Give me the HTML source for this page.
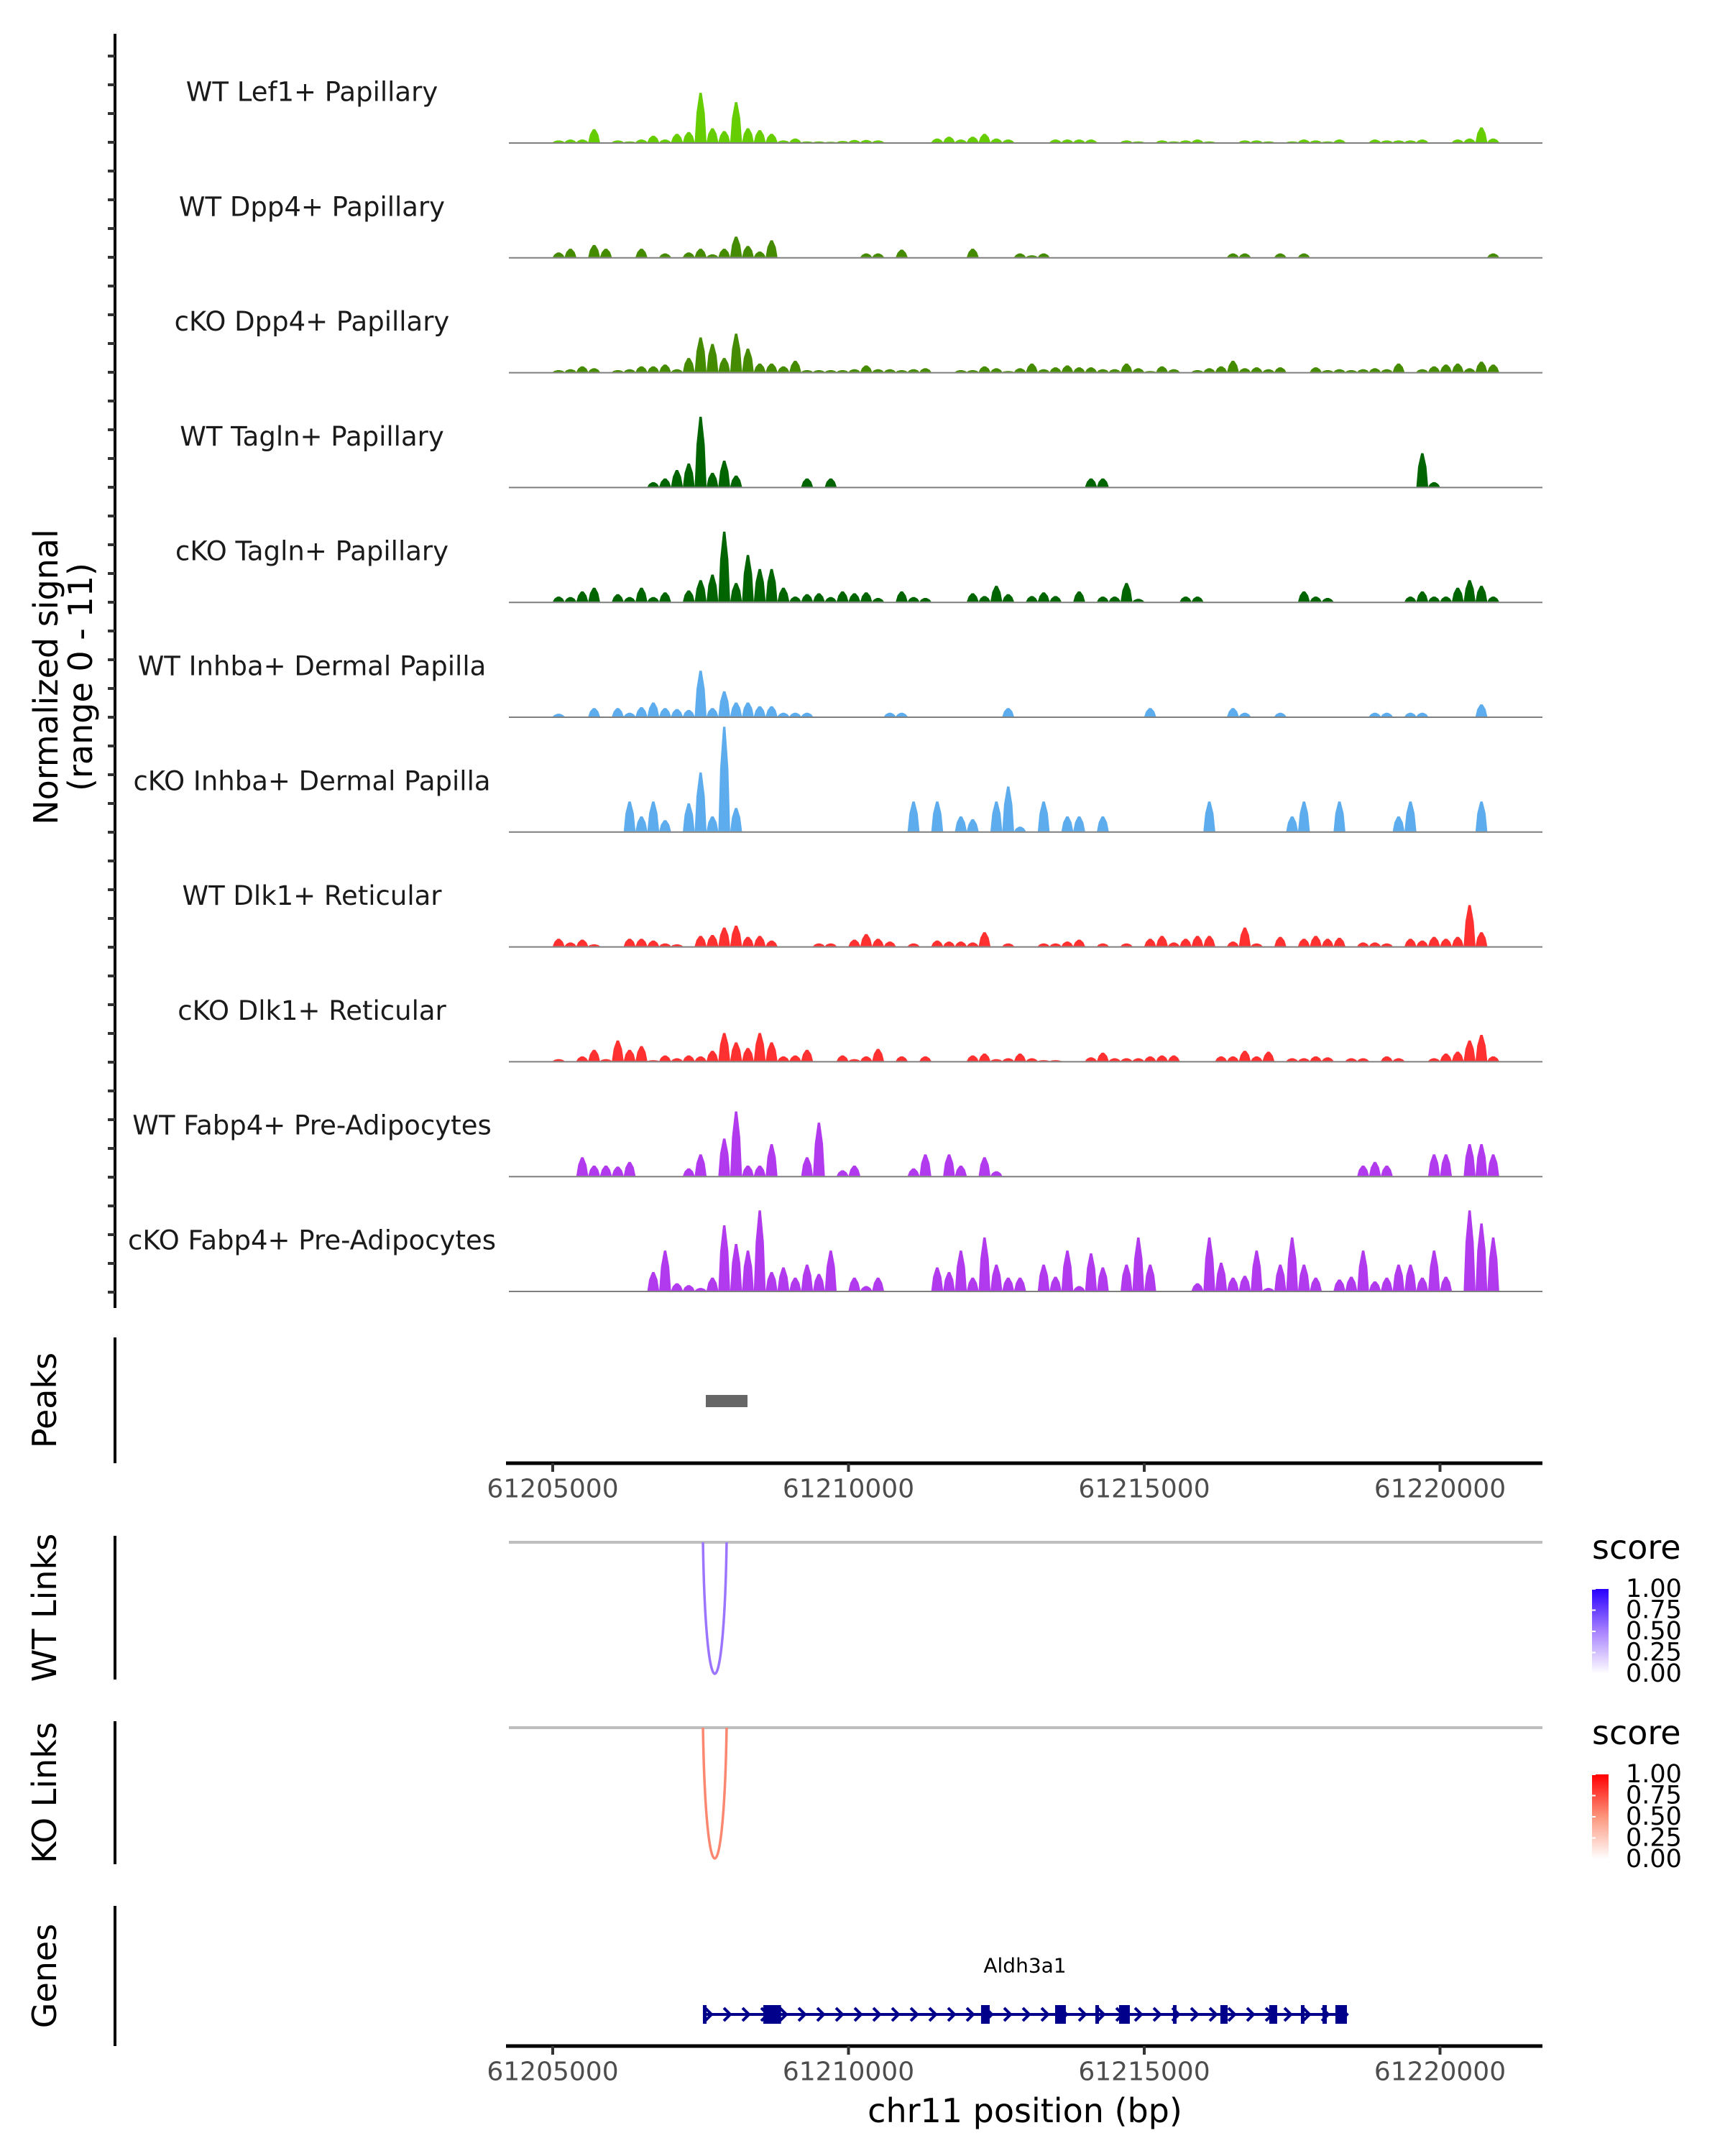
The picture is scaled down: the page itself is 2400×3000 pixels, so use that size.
<!DOCTYPE html>
<html><head><meta charset="utf-8"><style>
html,body{margin:0;padding:0;background:#fff;}
svg{display:block;font-family:"DejaVu Sans","Liberation Sans",sans-serif;}
</style></head><body>
<svg id="chart" xmlns="http://www.w3.org/2000/svg" width="2400" height="3000" viewBox="0 0 2400 3000">
<rect x="0" y="0" width="2400" height="3000" fill="#fff"/>
<g id="tracks"></g>
<g id="yaxis"></g>
<text transform="translate(64,942) rotate(-90)" text-anchor="middle" dominant-baseline="central" font-size="46">Normalized signal</text>
<text transform="translate(112,942) rotate(-90)" text-anchor="middle" dominant-baseline="central" font-size="46">(range 0 - 11)</text>
<g id="peaks"></g>
<g id="links"></g>
<g id="genes"></g>
</svg>
<script>
const NS="http://www.w3.org/2000/svg";
// ---- data ----
const trackNames=["WT Lef1+ Papillary","WT Dpp4+ Papillary","cKO Dpp4+ Papillary","WT Tagln+ Papillary","cKO Tagln+ Papillary","WT Inhba+ Dermal Papilla","cKO Inhba+ Dermal Papilla","WT Dlk1+ Reticular","cKO Dlk1+ Reticular","WT Fabp4+ Pre-Adipocytes","cKO Fabp4+ Pre-Adipocytes"];
const trackColors=["#66CD00","#458B00","#458B00","#006400","#006400","#5CACEE","#5CACEE","#FF3030","#FF3030","#B23AEE","#B23AEE"];
const binStart=61205000;
const binSize=200;
const sigLef1WT=[0.2,0.3,0.3,1.4,0,0.2,0.1,0.3,0.7,0.3,0.9,1.1,5.3,1.5,1.2,4.3,1.5,1.3,0.9,0.2,0.4,0.1,0.1,0.05,0.15,0.25,0.25,0.2,0,0,0,0,0.4,0.6,0.3,0.6,0.9,0.4,0.3,0,0,0,0.3,0.3,0.3,0.3,0,0,0.2,0.1,0,0.2,0.1,0.2,0.3,0.1,0,0,0.2,0.2,0.1,0,0.1,0.3,0.2,0.1,0.3,0,0,0.3,0.2,0.2,0.2,0.3,0,0,0.3,0.4,1.6,0.4];
const sigDpp4WT=[0.5,0.9,0,1.3,0.9,0,0,0.9,0,0.4,0,0.5,0.9,0.3,0.9,2.2,1.2,0.6,1.8,0,0,0,0,0,0,0,0.4,0.4,0,0.8,0,0,0,0,0,0.9,0,0,0,0.4,0.2,0.4,0,0,0,0,0,0,0,0,0,0,0,0,0,0,0,0.4,0.4,0,0,0.4,0,0.4,0,0,0,0,0,0,0,0,0,0,0,0,0,0,0,0.4];
const sigDpp4KO=[0.2,0.3,0.6,0.4,0,0.2,0.3,0.6,0.6,0.8,0.3,1.5,3.7,3,1.5,4.1,2.5,0.9,0.9,0.6,1.2,0.2,0.2,0.2,0.2,0.3,0.7,0.3,0.3,0.2,0.3,0.4,0,0,0.2,0.2,0.6,0.4,0.1,0.4,0.9,0.3,0.5,0.7,0.5,0.5,0.3,0.3,0.9,0.4,0.1,0.6,0.3,0,0.2,0.4,0.6,1.2,0.4,0.5,0.3,0.5,0,0,0.5,0.2,0.3,0.2,0.3,0.4,0.3,0.9,0,0.3,0.6,0.8,0.9,0.4,1.1,0.8];
const sigTaglnWT=[0,0,0,0,0,0,0,0,0.5,0.9,1.8,2.5,7.5,1.5,2.8,1.2,0,0,0,0,0,0.9,0,0.9,0,0,0,0,0,0,0,0,0,0,0,0,0,0,0,0,0,0,0,0,0,0.9,0.9,0,0,0,0,0,0,0,0,0,0,0,0,0,0,0,0,0,0,0,0,0,0,0,0,0,0,3.6,0.5,0,0,0,0,0];
const sigTaglnKO=[0.55,0.5,1.1,1.5,0,0.8,0.5,1.5,0.5,1,0,1.2,2.3,2.9,7.5,2,5,3.5,3.5,1.5,0.55,0.8,0.9,0.5,1.1,0.9,1,0.4,0,1.1,0.5,0.4,0,0,0,0.9,0.6,1.7,0.8,0,0.6,1,0.6,0,1.1,0,0.55,0.55,2,0.3,0,0,0,0.55,0.55,0,0,0,0,0,0,0,0,1.1,0.55,0.4,0,0,0,0,0,0,0.55,1.1,0.55,0.55,1.5,2.3,1.7,0.55];
const sigInhbaWT=[0.3,0,0,0.9,0,0.9,0.4,1,1.5,0.9,0.8,0.7,4.9,0.9,2.7,1.5,1.5,1.1,1.1,0.4,0.4,0.4,0,0,0,0,0,0,0.4,0.4,0,0,0,0,0,0,0,0,0.9,0,0,0,0,0,0,0,0,0,0,0,0.9,0,0,0,0,0,0,0.9,0.4,0,0,0.4,0,0,0,0,0,0,0,0.4,0.4,0,0.4,0.4,0,0,0,0,1.3,0];
const sigInhbaKO=[0,0,0,0,0,0,3.2,1.6,3.2,1.2,0,3,6.3,1.6,11.2,2.5,0,0,0,0,0,0,0,0,0,0,0,0,0,0,3.2,0,3.2,0,1.6,1.3,0,3.2,4.8,0.5,0,3.2,0,1.6,1.6,0,1.6,0,0,0,0,0,0,0,0,3.2,0,0,0,0,0,0,1.6,3.2,0,0,3.2,0,0,0,0,1.6,3.2,0,0,0,0,0,3.2,0];
const sigDlk1WT=[0.8,0.4,0.7,0.2,0,0,0.8,0.8,0.6,0.3,0.2,0,1.1,1.2,2,2.2,1,1.1,0.6,0,0,0,0.3,0.3,0,0.7,1.3,0.8,0.5,0,0.3,0,0.6,0.5,0.5,0.4,1.5,0,0.3,0,0,0.3,0.3,0.5,0.7,0,0.3,0,0.3,0,0.8,1.1,0.4,0.8,1.1,1.1,0,0.5,2,0.3,0,1,0,0.8,1.1,0.8,0.9,0,0.4,0.4,0.3,0,0.8,0.6,1,0.8,1,4.4,1.5,0];
const sigDlk1KO=[0.2,0,0.5,1.2,0.2,2.2,1.2,1.6,0.1,0.6,0.3,0.6,0.5,1.1,3,2,1.4,3,2,0.5,0.6,1.2,0,0,0.6,0.2,0.5,1.3,0,0.5,0,0.5,0,0,0,0.6,0.8,0.2,0.3,0.8,0.3,0.1,0.1,0,0,0.4,0.9,0.3,0.3,0.3,0.5,0.6,0.6,0,0,0,0.5,0.5,1.1,0.5,1,0,0.3,0.3,0.5,0.4,0,0.3,0.3,0,0.5,0.3,0,0,0.3,0.8,1,2.2,2.8,0.5];
const sigFabp4WT=[0,0,2,1.1,1.1,1,1.5,0,0,0,0,0.8,2.3,0,4,6.9,1.1,1.1,3.4,0,0,2,5.7,0,0.6,1.1,0,0,0,0,0.8,2.3,0,2.3,1.1,0,2,0.5,0,0,0,0,0,0,0,0,0,0,0,0,0,0,0,0,0,0,0,0,0,0,0,0,0,0,0,0,0,0,1.1,1.5,1.1,0,0,0,2.3,2.3,0,3.4,3.4,2.3];
const sigFabp4KO=[0,0,0,0,0,0,0,0,2,4.3,0.8,0.6,0.3,1.4,7,5,4.3,8.6,2,2.5,1.4,2.8,1.8,4.3,0,1.4,0.5,1.4,0,0,0,0,2.5,2,4.3,1.4,5.7,2.8,1.4,1.4,0,2.8,1.5,4.3,0.5,4,2.5,0,2.8,5.7,2.8,0,0,0,0.8,5.7,3,1.4,1.6,4.3,0.3,2.8,5.7,2.8,1.4,0,1.2,1.5,4.3,1,1.4,2.8,2.8,1.4,4.3,1.5,0,8.6,7.2,5.7];
const trackSignals=[sigLef1WT,sigDpp4WT,sigDpp4KO,sigTaglnWT,sigTaglnKO,sigInhbaWT,sigInhbaKO,sigDlk1WT,sigDlk1KO,sigFabp4WT,sigFabp4KO];
const xTicks=[61205000,61210000,61215000,61220000];
const xTickLabels=["61205000","61210000","61215000","61220000"];
const peakStarts=[61207588];
const peakEnds=[61208293];
const wtLinkStarts=[61207540];
const wtLinkEnds=[61207940];
const wtLinkScores=[0.55];
const koLinkStarts=[61207540];
const koLinkEnds=[61207940];
const koLinkScores=[0.55];
const legendTicks=[0,0.25,0.5,0.75,1];
const legendLabels=["0.00","0.25","0.50","0.75","1.00"];
const geneName="Aldh3a1";
const geneStart=61207540;
const geneEnd=61218426;
const exonStarts=[61207539,61208560,61212241,61213493,61214173,61214574,61215485,61216287,61217114,61217648,61218013,61218231];
const exonEnds=[61207600,61208860,61212387,61213675,61214234,61214756,61215546,61216409,61217247,61217709,61218086,61218426];
// ---- scales ----
const X0=708,X1=2146;
function xs(bp){return 769+(bp-61205000)*0.0823;}
const unitPx=13;
function baseY(i){return 198+159.8*i;}
function el(tag,attrs,parent){const e=document.createElementNS(NS,tag);for(const k in attrs)e.setAttribute(k,attrs[k]);parent.appendChild(e);return e;}
// ---- tracks ----
const gT=document.getElementById('tracks');
trackNames.forEach((name,i)=>{
  const by=baseY(i);
  const g=el('g',{},gT);
  
  
  const t=el('text',{x:434,y:by-70,'text-anchor':'middle','dominant-baseline':'central','font-size':37,fill:'#1a1a1a'},g);
  t.textContent=name;
  
  
  const sig=trackSignals[i];
  let d='';
  sig.forEach((v,k)=>{
    if(v<=0)return;
    const a=xs(binStart+k*binSize), b=xs(binStart+(k+1)*binSize), w=b-a, h=v*unitPx;
    d+=`M${a.toFixed(1)},${by}L${(a+w*0.15).toFixed(1)},${(by-h*0.6).toFixed(1)}L${(a+w*0.4).toFixed(1)},${(by-h).toFixed(1)}L${(a+w*0.6).toFixed(1)},${(by-h).toFixed(1)}L${(a+w*0.85).toFixed(1)},${(by-h*0.6).toFixed(1)}L${b.toFixed(1)},${by}Z`;
  });
  const p=el('path',{d:d,fill:trackColors[i]},g);
  
  
  const l=el('line',{x1:X0,x2:X1,y1:by+1,y2:by+1,stroke:'#7f7f7f','stroke-width':2},g);
  
  
});
// ---- y axis ----
const gY=document.getElementById('yaxis');
const ya=el('line',{x1:160,x2:160,y1:47,y2:1820,stroke:'#000','stroke-width':4},gY);


for(let y=78;y<=1818;y+=40){
  const tk=el('line',{x1:150,x2:160,y1:y,y2:y,stroke:'#333','stroke-width':4},gY);
  
  
}
// ---- helpers for panels ----
function panelAxis(parent,y1,y2,label,name){
  const a=el('line',{x1:160,x2:160,y1:y1,y2:y2,stroke:'#000','stroke-width':4},parent);
  
  
  const t=el('text',{transform:`translate(62,${(y1+y2)/2}) rotate(-90)`,'text-anchor':'middle','dominant-baseline':'central','font-size':46},parent);
  t.textContent=label;
  
  
}
function xAxis(parent,y,name){
  const a=el('line',{x1:X0-4,x2:X1,y1:y,y2:y,stroke:'#000','stroke-width':5},parent);
  
  
  xTicks.forEach((v,k)=>{
    const tk=el('line',{x1:xs(v),x2:xs(v),y1:y,y2:y+12,stroke:'#333','stroke-width':4},parent);
    
    
    const t=el('text',{x:xs(v),y:y+36,'text-anchor':'middle','dominant-baseline':'central','font-size':36,fill:'#4d4d4d'},parent);
    t.textContent=xTickLabels[k];
    
    
  });
}
// ---- peaks ----
const gP=document.getElementById('peaks');
panelAxis(gP,1861,2036,'Peaks','peaks');
peakStarts.forEach((s,k)=>{
  const r=el('rect',{x:xs(s),y:1941,width:xs(peakEnds[k])-xs(s),height:17,fill:'#666666'},gP);
  
  
});
xAxis(gP,2036,'peaks-x-axis');
// ---- links ----
const gL=document.getElementById('links');
function lerp(a,b,t){return a.map((v,i)=>Math.round(v+(b[i]-v)*t));}
function scaleColor(mid,hi,s){
  const c=s<0.5?lerp([255,255,255],mid,s/0.5):lerp(mid,hi,(s-0.5)/0.5);
  return `rgb(${c[0]},${c[1]},${c[2]})`;
}
function linkPanel(y0,yBottom,axisTop,axisBot,label,name,starts,ends,scores,mid,hi,legendY){
  const g=el('g',{},gL);
  
  
  panelAxis(g,axisTop,axisBot,label,name);
  const bl=el('line',{x1:X0,x2:X1,y1:y0,y2:y0,stroke:'#bebebe','stroke-width':4},g);
  
  
  starts.forEach((s,k)=>{
    const a=xs(s),b=xs(ends[k]);
    const cy=y0+(yBottom-y0)/0.75;
    const p=el('path',{d:`M${a},${y0}C${a+(b-a)*0.12},${cy} ${b-(b-a)*0.12},${cy} ${b},${y0}`,fill:'none',stroke:scaleColor(mid,hi,scores[k]),'stroke-width':3.5},g);
    
    
  });
  const st=el('text',{x:2215,y:legendY,'font-size':46,fill:'#000'},g);
  st.textContent='score';
  
  
  const gid='grad-'+name;
  const defs=el('defs',{},g);
  const lg=el('linearGradient',{id:gid,x1:0,y1:1,x2:0,y2:0},defs);
  el('stop',{offset:'0','stop-color':scaleColor(mid,hi,0)},lg);
  el('stop',{offset:'0.5','stop-color':scaleColor(mid,hi,0.5)},lg);
  el('stop',{offset:'1','stop-color':scaleColor(mid,hi,1)},lg);
  const top=legendY+42, bot=legendY+160;
  const bar=el('rect',{x:2215,y:top,width:23,height:bot-top,fill:`url(#${gid})`},g);
  
  
  legendTicks.forEach((v,k)=>{
    const yy=bot-(bot-top)*v;
    const tl=el('line',{x1:2215,x2:2220,y1:yy,y2:yy,stroke:'#fff','stroke-width':2},g);
    
    
    const t=el('text',{x:2262,y:yy,'dominant-baseline':'central','font-size':35,fill:'#000'},g);
    t.textContent=legendLabels[k];
    
    
  });
}
linkPanel(2146,2329,2137,2337,'WT Links','wt-links',wtLinkStarts,wtLinkEnds,wtLinkScores,[168,130,255],[40,0,255],2169);
linkPanel(2404,2586,2395,2594,'KO Links','ko-links',koLinkStarts,koLinkEnds,koLinkScores,[252,150,125],[255,0,0],2427);
// ---- genes ----
const gG=document.getElementById('genes');
panelAxis(gG,2652,2847,'Genes','genes');
const gy=2803;
const gl=el('line',{x1:xs(geneStart),x2:xs(geneEnd),y1:gy,y2:gy,stroke:'#00008B','stroke-width':4},gG);


for(let x=xs(geneStart)+3;x<xs(geneEnd)-6;x+=26){
  const c=el('path',{d:`M${x},${gy-9}L${x+9},${gy}L${x},${gy+9}`,fill:'none',stroke:'#00008B','stroke-width':4},gG);
  
  
}
exonStarts.forEach((s,k)=>{
  const r=el('rect',{x:xs(s),y:gy-13,width:Math.max(5,xs(exonEnds[k])-xs(s)),height:26,fill:'#00008B'},gG);
  
  
});
const gn=el('text',{x:1426,y:2735,'text-anchor':'middle','dominant-baseline':'central','font-size':28,fill:'#000'},gG);
gn.textContent=geneName;


xAxis(gG,2847,'genes-x-axis');
const xt=el('text',{x:1426,y:2937,'text-anchor':'middle','dominant-baseline':'central','font-size':46,fill:'#000'},gG);
xt.textContent='chr11 position (bp)';


</script>
</body></html>
